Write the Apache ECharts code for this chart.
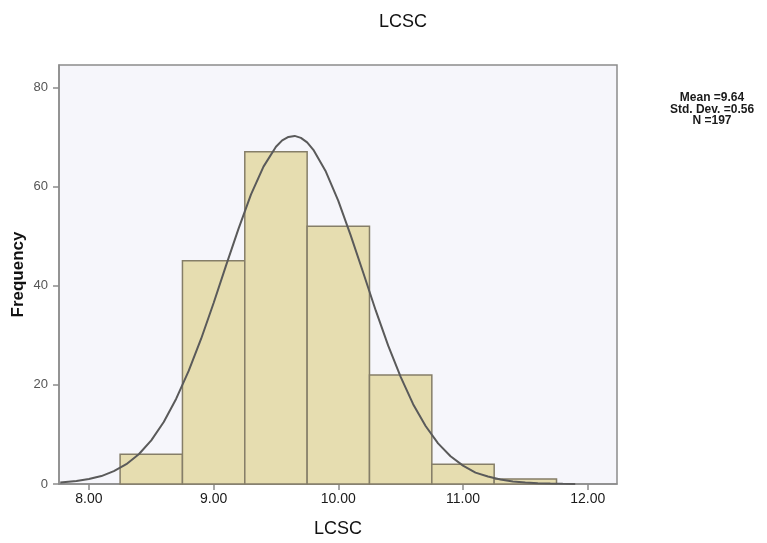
<!DOCTYPE html>
<html>
<head>
<meta charset="utf-8">
<script src="https://cdn.jsdelivr.net/npm/echarts@6/dist/echarts.min.js"></script>
<style>
html, body { margin: 0; padding: 0; background: #fff; }
#chart { width: 767px; height: 543px; }
</style>
</head>
<body>
<div id="chart"></div>
<script>
// histogram bins: [start, end]
var binStarts = [8.25, 8.75, 9.25, 9.75, 10.25, 10.75, 11.25];
var binEnds = [8.75, 9.25, 9.75, 10.25, 10.75, 11.25, 11.75];
var counts = [6, 45, 67, 52, 22, 4, 1];

// normal curve
var curveX = [7.77, 7.9, 8.0, 8.1, 8.2, 8.3, 8.4, 8.5, 8.6, 8.7, 8.8, 8.9, 9.0, 9.1, 9.2, 9.3, 9.4, 9.5, 9.55, 9.6, 9.65, 9.7,
              9.75, 9.8, 9.9, 10.0, 10.1, 10.2, 10.3, 10.4, 10.5, 10.6, 10.7, 10.8, 10.9, 11.0, 11.1, 11.2, 11.3, 11.4, 11.5, 11.6, 11.7, 11.8, 11.9];
var curveY = [0.3, 0.6, 1.0, 1.6, 2.6, 4.0, 6.0, 8.8, 12.5, 17.2, 22.8, 29.3, 36.5, 44.1, 51.5, 58.4, 64.0, 68.0, 69.3, 70.0, 70.2, 69.8,
              68.9, 67.4, 63.0, 57.1, 50.1, 42.6, 35.0, 27.9, 21.6, 16.1, 11.7, 8.2, 5.6, 3.7, 2.3, 1.5, 0.9, 0.5, 0.3, 0.15, 0.08, 0.04, 0.02];

var xTicks = [8, 9, 10, 11, 12];
var yTicks = [0, 20, 40, 60, 80];

var myChart = echarts.init(document.getElementById('chart'));

var barData = [];
binStarts.forEach(function (s, i) {
    barData.push([s, binEnds[i], counts[i]]);
});
var lineData = [];
curveX.forEach(function (x, i) {
    lineData.push([x, curveY[i]]);
});

var option = {
    animation: false,
    title: {
        text: 'LCSC',
        left: 398,
        top: 8,
        textAlign: 'center',
        textStyle: { fontFamily: 'Liberation Sans', fontSize: 18, fontWeight: 'normal', color: '#111' }
    },
    graphic: [{
        type: 'text',
        x: 712,
        y: 92,
        style: {
            text: 'Mean =9.64\nStd. Dev. =0.56\nN =197',
            align: 'center',
            font: 'bold 12px "Liberation Sans"',
            lineHeight: 11.5,
            fill: '#1a1a1a'
        }
    }],
    grid: {
        left: 59, top: 65, width: 558, height: 419,
        outerBoundsMode: 'none',
        containLabel: false,
        show: true,
        backgroundColor: '#f6f6fb',
        borderColor: '#8c8c8c',
        borderWidth: 1.5
    },
    xAxis: {
        type: 'value',
        min: 7.76,
        max: 12.235,
        name: 'LCSC',
        nameLocation: 'middle',
        nameGap: 36,
        nameTextStyle: { fontFamily: 'Liberation Sans', fontSize: 18, color: '#111' },
        axisLine: { show: true, lineStyle: { color: '#8c8c8c', width: 1.5 } },
        axisTick: { show: true, length: 6, customValues: xTicks, lineStyle: { color: '#8c8c8c', width: 1.5 } },
        axisLabel: {
            customValues: xTicks,
            margin: 8,
            fontFamily: 'Liberation Sans', fontSize: 14, color: '#1a1a1a',
            formatter: function (v) { return v.toFixed(2); }
        },
        splitLine: { show: false }
    },
    yAxis: {
        type: 'value',
        min: 0,
        max: 84.5,
        name: 'Frequency',
        nameLocation: 'middle',
        nameGap: 32,
        nameMoveOverlap: false,
        nameTextStyle: { fontFamily: 'Liberation Sans', fontSize: 17, fontWeight: 'bold', color: '#111' },
        axisLine: { show: true, lineStyle: { color: '#8c8c8c', width: 1.5 } },
        axisTick: { show: true, length: 6, customValues: yTicks, lineStyle: { color: '#8c8c8c', width: 1.5 } },
        axisLabel: {
            customValues: yTicks,
            margin: 11,
            fontFamily: 'Liberation Sans', fontSize: 13, color: '#555'
        },
        splitLine: { show: false }
    },
    series: [
        {
            type: 'custom',
            data: barData,
            encode: { x: [0, 1], y: 2 },
            renderItem: function (params, api) {
                var p0 = api.coord([api.value(0), 0]);
                var p1 = api.coord([api.value(1), api.value(2)]);
                return {
                    type: 'rect',
                    shape: { x: p0[0], y: p1[1], width: p1[0] - p0[0], height: p0[1] - p1[1] },
                    style: { fill: '#e6ddb0', stroke: '#857e68', lineWidth: 1.5 }
                };
            }
        },
        {
            type: 'line',
            data: lineData,
            smooth: false,
            symbol: 'none',
            lineStyle: { color: '#5a5a5a', width: 2 },
            z: 5
        }
    ]
};
myChart.setOption(option);
</script>
</body>
</html>
